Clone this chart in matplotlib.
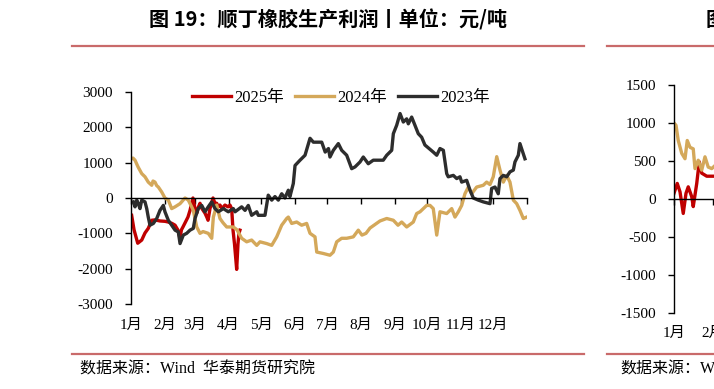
import matplotlib
matplotlib.use("Agg")
import matplotlib.pyplot as plt
import numpy as np

plt.rcParams['font.family'] = ['Liberation Serif', 'Noto Sans CJK SC']
plt.rcParams['axes.unicode_minus'] = False

# day of year, value (yuan/ton)
day_2025 = [0.6, 2.8, 6.2, 9.9, 12.9, 15.9, 19.1, 22.1, 26.7, 31.3, 34.4, 37.8, 40.6, 43.3,
            45.2, 46.5, 47.9, 50.7, 52.5, 54.4, 55.9, 57.1, 59, 60.6, 62.2, 63.6, 65.4, 68.2,
            70, 71, 72.8, 74.7, 75.6, 77.4, 79, 80.2, 82, 83.9, 86.6, 89.4, 91.2, 92.8, 94,
            95.4, 96.8, 97.4, 98.6, 99.5, 100.4]
val_2025 = [-490, -900, -1280, -1190, -990, -860, -630, -620, -650, -660, -680, -720, -770, -910,
            -1140, -900, -820, -650, -540, -350, -150, 0, -300, -430, -250, -150, -300, -430,
            -550, -630, -300, -100, 0, -150, -150, -250, -200, -300, -200, -250, -200, -300, -900,
            -1300, -1800, -2020, -1300, -1000, -910]

day_2024 = [0.6, 1.8, 3.7, 6.5, 9.9, 12.9, 15.9, 19.1, 20.3, 22.1, 23.7, 25.2, 28.3, 31.3, 34.4,
            37.5, 40.6, 45.2, 49.8, 52.8, 55.9, 57.4, 60.6, 63.6, 66.4, 71.2, 74.4, 75.9, 79, 82,
            84.8, 88.2, 94.3, 97.7, 102, 106.6, 111.2, 115.9, 118.9, 125.1, 129.7, 134.3, 138.9,
            143.5, 145, 148.1, 152.7, 157.3, 161.9, 165, 169.6, 171.2, 177.2, 183.4, 186.5, 189.6,
            194.2, 198.8, 204.9, 209.5, 212.9, 216.6, 220.3, 224.9, 229.5, 235.7, 241.8, 246.1,
            249.5, 254.1, 260.2, 263.3, 266.4, 272.5, 275.6, 278.6, 281.8, 284.8, 291, 295.6,
            298.6, 301.7, 304.8, 307.8, 310.9, 314, 318.6, 324.7, 327.8, 330.9, 333.9, 337.1,
            340.1, 343.2, 346.3, 349.3, 352.4, 355.5, 358.5, 361.6, 364.7]
val_2024 = [1110, 1130, 1070, 880, 690, 600, 450, 360, 480, 450, 350, 310, 170, 0, -60,
            -300, -250, -160, 0, -60, -250, -350, -820, -1000, -950, -1000, -1140, -540, -200, -580,
            -700, -820, -820, -900, -1140, -1240, -1190, -1340, -1240, -1290, -1340, -1100, -770,
            -580, -540, -720, -680, -770, -720, -1000, -1100, -1530, -1570, -1620, -1530, -1240,
            -1140, -1140, -1100, -910, -1050, -1000, -850, -750, -650, -580, -630, -770,
            -680, -820, -680, -440, -390, -210, -210, -300, -1050, -390, -440, -300,
            -540, -390, -210, 120, 310, 120, 310, 360, 450, 380, 600, 1170,
            790, 450, 640, 450, -60, -160, -350, -580, -540]

day_2023 = [2.1, 3.7, 5.3, 6.7, 8.3, 9.9, 12.9, 14.5, 15.9, 17.5, 20.6, 23.7, 26.7, 29.8, 31.3,
            34.4, 37.5, 40.6, 43.6, 45.2, 48.2, 51.3, 54.4, 57.4, 59, 62, 65.2, 68.2, 71.2, 74.4,
            77.4, 80.5, 85.1, 89.7, 94.3, 95.9, 102, 105.1, 108.1, 111.2, 115.9, 117.3, 123.5,
            126.5, 129.7, 132.7, 135.8, 138.9, 141.9, 145, 146.5, 149.6, 151.2, 155.8, 160.4, 165,
            168.1, 175.8, 179, 182, 183.4, 186.5, 191.1, 194.2, 198.8, 203.4, 206.5, 211.1, 214.1,
            218.7, 223.3, 232.5, 235.7, 240.3, 241.8, 244.9, 248, 251, 254.1, 255.6, 258.7, 261.7,
            264.8, 267.9, 270.9, 278.6, 281.8, 284.8, 287.9, 291, 292.4, 297.1, 300.2, 303.2,
            304.8, 309.4, 312.5, 315.5, 320.1, 324.7, 330.9, 332.4, 335.5, 338.5, 340.1, 343.2,
            346.3, 349.3, 352.4, 353.9, 357, 358.5, 361.6, 363.1]
val_2023 = [-110, -250, -60, -160, -300, -60, -110, -300, -540, -770, -720, -580, -350, -210, -390,
            -630, -770, -910, -960, -1290, -1050, -1000, -910, -860, -580, -300, -210, -390, -250, -110,
            -300, -390, -300, -390, -300, -390, -250, -350, -210, -490, -390, -490, -490,
            80, -60, 40, -60, 120, 0, 220, 40, 410, 920, 1070, 1210, 1690,
            1580, 1580, 1300, 1400, 1160, 1350, 1540, 1350, 1210, 830, 880, 1020, 1160,
            970, 1070, 1070, 1210, 1350, 1820, 2060, 2390, 2150, 2240, 2100, 2290, 2060,
            1820, 1720, 1500, 1300, 1210, 1400, 1350, 690, 600, 640, 550, 600,
            450, 500, 220, 0, -60, -110, -160, 270, 310, 120, 550, 640,
            600, 740, 790, 1020, 1210, 1540, 1250, 1110]

# second (cut-off) chart on the right
day_r_2024 = [0, 1.6, 3.4, 6.2, 8.8, 10.6, 12.8, 15.4, 16.8, 19.4, 22.2, 24.8, 27.4, 30.2, 32.8, 36.8]
val_r_2024 = [1000, 970, 770, 600, 530, 770, 680, 660, 400, 510, 380, 555, 420, 400, 440, 400]
day_r_2025 = [0, 2.6, 4.8, 7.4, 9.6, 11.4, 14.2, 15.4, 18.2, 20.2, 22.2, 26.2, 32.8, 40]
val_r_2025 = [75, 205, 95, -190, 75, 160, 30, -100, 205, 490, 340, 300, 300, 300]

month_starts = [0, 31, 59, 90, 120, 151, 181, 212, 243, 273, 304, 334, 365]
month_labels = ['1月', '2月', '3月', '4月', '5月', '6月', '7月', '8月', '9月', '10月', '11月', '12月']

c_2025 = '#c00000'
c_2024 = '#d4a85a'
c_2023 = '#2d2d2d'
c_rule = '#c96a6a'

W, H = 714, 389
fig = plt.figure(figsize=(W / 100, H / 100), dpi=100)


def style_axis(ax, yticks, label_y, n_labels=12):
    for s in ['top', 'right']:
        ax.spines[s].set_visible(False)
    ax.spines['bottom'].set_position(('data', 0))
    ax.spines['left'].set_linewidth(1.0)
    ax.spines['bottom'].set_linewidth(1.0)
    ax.set_xlim(0, 365)
    ax.set_xticks(month_starts)
    ax.tick_params(axis='x', direction='out', length=4, width=1, labelbottom=False)
    ax.set_yticks(yticks)
    ax.tick_params(axis='y', direction='out', length=4, width=1, labelsize=11, pad=9)
    for m, lab in zip(month_starts[:n_labels], month_labels[:n_labels]):
        ax.text(m, label_y, lab, transform=ax.get_xaxis_transform(), ha='center', va='center',
                fontsize=11)


# main chart
ax = fig.add_axes([131 / W, 1 - 304 / H, 396 / W, 212 / H])
ax.plot(day_2025, val_2025, color=c_2025, lw=2.4, label='2025年')
ax.plot(day_2024, val_2024, color=c_2024, lw=2.4, label='2024年')
ax.plot(day_2023, val_2023, color=c_2023, lw=2.4, label='2023年')
ax.set_ylim(-3000, 3000)
style_axis(ax, np.arange(-3000, 3001, 1000), -0.1)
ax.legend(loc='center', bbox_to_anchor=(0.53, 0.972), ncol=3, frameon=False,
          fontsize=12, handlelength=2.35, handletextpad=0.2, columnspacing=0.65,
          borderaxespad=0, borderpad=0)

# right chart (cut off by the figure edge)
ax2 = fig.add_axes([674 / W, 1 - 313 / H, 456 / W, 228 / H])
ax2.plot(day_r_2025, val_r_2025, color=c_2025, lw=2.4)
ax2.plot(day_r_2024, val_r_2024, color=c_2024, lw=2.4)
ax2.set_ylim(-1500, 1500)
style_axis(ax2, np.arange(-1500, 1501, 500), -0.09, n_labels=2)

# titles, rules and sources
fig.text(328 / W, 1 - 20 / H, '图 19：顺丁橡胶生产利润丨单位：元/吨', ha='center', va='center',
         fontsize=14.5, fontweight='bold', family=['Noto Sans CJK SC'])
fig.text(706 / W, 1 - 20 / H, '图', ha='left', va='center',
         fontsize=14.5, fontweight='bold', family=['Noto Sans CJK SC'])

for y in [46, 354]:
    fig.add_artist(plt.Line2D([72 / W, 584 / W], [1 - y / H, 1 - y / H], color=c_rule, lw=1.6))
    fig.add_artist(plt.Line2D([607 / W, 1.0], [1 - y / H, 1 - y / H], color=c_rule, lw=1.6))

fig.text(80 / W, 1 - 370 / H, '数据来源：Wind  华泰期货研究院', ha='left', va='center', fontsize=11.5)
fig.text(620 / W, 1 - 370 / H, '数据来源：Wind', ha='left', va='center', fontsize=11.5)

fig.savefig('out.png', dpi=100)
